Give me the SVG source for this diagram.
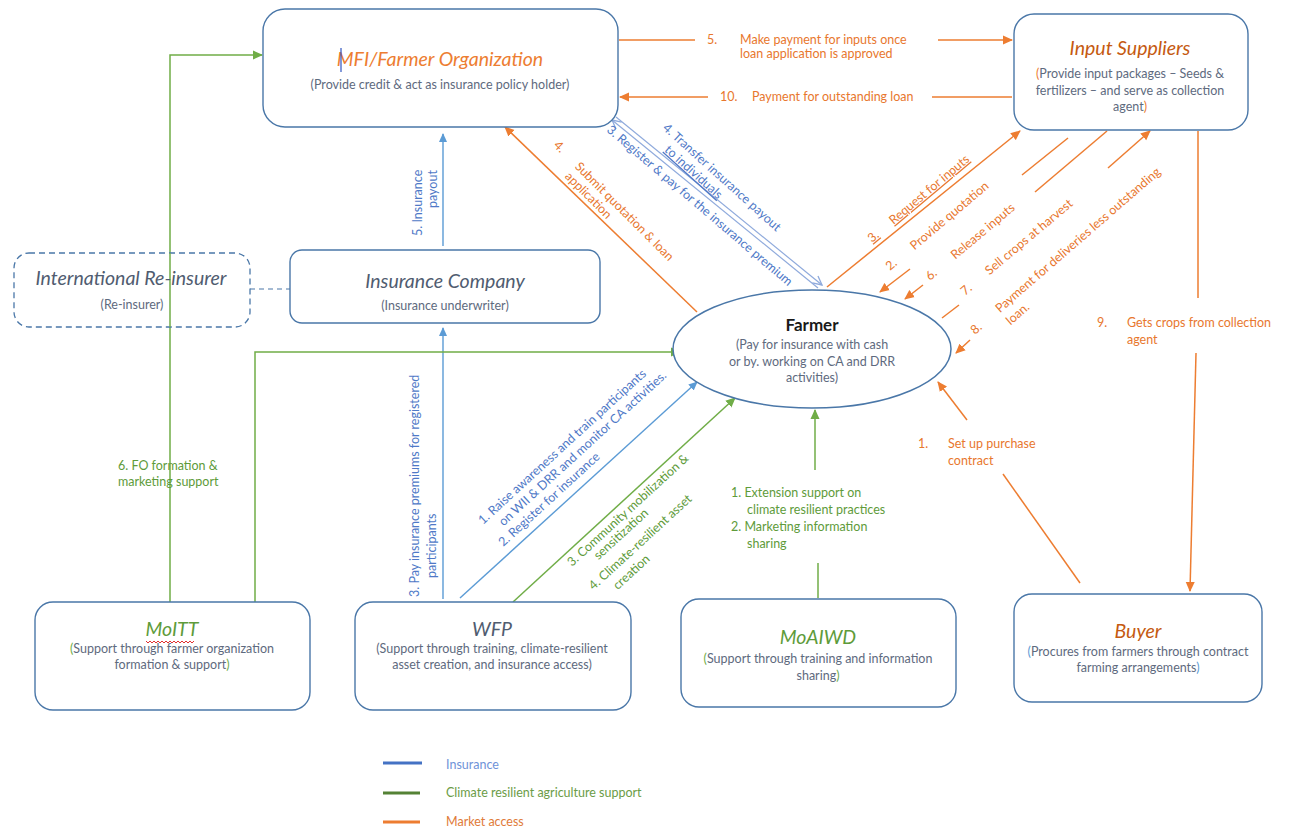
<svg xmlns="http://www.w3.org/2000/svg" width="1291" height="828" viewBox="0 0 1291 828">
<style>
text{font-family:Lato,"Liberation Sans",sans-serif}
.box{fill:#fff;stroke:#4A77A8;stroke-width:1.4}
.ttl{font-style:italic;font-size:19.5px;text-anchor:middle}
.sub{font-size:12.5px;fill:#5E6A7E;text-anchor:middle}
.lo{font-size:12.5px;fill:#E8772E}
.lb{font-size:12.5px;fill:#4F79C7}
.lg{font-size:12.5px;fill:#5E9B3A}
.eo{stroke:#ED7D31;stroke-width:1.5;fill:none}
.eb{stroke:#5B9BD5;stroke-width:1.4;fill:none}
.eb2{stroke:#8FAADC;stroke-width:1.2;fill:none}
.eg{stroke:#70AD47;stroke-width:1.5;fill:none}
</style>
<defs>
<marker id="aO" viewBox="0 0 10 10" refX="9" refY="5" markerWidth="10" markerHeight="10" markerUnits="userSpaceOnUse" orient="auto"><path d="M0,0.5 L10,5 L0,9.5 z" fill="#ED7D31"/></marker>
<marker id="aB" viewBox="0 0 10 10" refX="9" refY="5" markerWidth="9" markerHeight="9" markerUnits="userSpaceOnUse" orient="auto"><path d="M0,0.5 L10,5 L0,9.5 z" fill="#5B9BD5"/></marker>
<marker id="aG" viewBox="0 0 10 10" refX="9" refY="5" markerWidth="10" markerHeight="10" markerUnits="userSpaceOnUse" orient="auto"><path d="M0,0.5 L10,5 L0,9.5 z" fill="#70AD47"/></marker>
<marker id="aBo" viewBox="0 0 10 10" refX="9" refY="5" markerWidth="11" markerHeight="11" markerUnits="userSpaceOnUse" orient="auto"><path d="M1,1 L9,5 L1,9" fill="none" stroke="#8FAADC" stroke-width="1.2"/></marker>
</defs>

<g id="connectors">
  <line class="eo" x1="619" y1="40" x2="695" y2="40"/>
  <line class="eo" x1="938" y1="40" x2="1012" y2="40" marker-end="url(#aO)"/>
  <line class="eo" x1="1012" y1="97" x2="932" y2="97"/>
  <line class="eo" x1="708" y1="97" x2="620" y2="97" marker-end="url(#aO)"/>
  <line class="eo" x1="697" y1="312" x2="505" y2="127" marker-end="url(#aO)"/>
  <line class="eo" x1="827" y1="287" x2="1020" y2="131" marker-end="url(#aO)"/>
  <line class="eo" x1="1068" y1="138" x2="1022" y2="175"/>
  <line class="eo" x1="910" y1="269" x2="880" y2="292" marker-end="url(#aO)"/>
  <line class="eo" x1="1107" y1="131" x2="1035" y2="192"/>
  <line class="eo" x1="923" y1="285" x2="905" y2="299" marker-end="url(#aO)"/>
  <line class="eo" x1="959" y1="305" x2="942" y2="318"/>
  <line class="eo" x1="1108" y1="168" x2="1150" y2="131" marker-end="url(#aO)"/>
  <line class="eo" x1="970" y1="340" x2="956" y2="353" marker-end="url(#aO)"/>
  <line class="eo" x1="1198" y1="131" x2="1198" y2="298"/>
  <line class="eo" x1="1196" y1="353" x2="1190" y2="591" marker-end="url(#aO)"/>
  <line class="eo" x1="1080" y1="583" x2="1003" y2="474"/>
  <line class="eo" x1="967" y1="420" x2="938" y2="382" marker-end="url(#aO)"/>

  <line class="eb" x1="443" y1="246" x2="443" y2="134" marker-end="url(#aB)"/>
  <line class="eb2" x1="818" y1="288" x2="612" y2="120" marker-end="url(#aBo)"/>
  <line class="eb2" x1="616" y1="117" x2="822" y2="285" marker-end="url(#aBo)"/>
  <line class="eb" x1="443" y1="599" x2="443" y2="328" marker-end="url(#aB)"/>
  <line class="eb" x1="460" y1="598" x2="697" y2="382" marker-end="url(#aB)"/>

  <polyline class="eg" points="170,602 170,55 262,55" marker-end="url(#aG)"/>
  <polyline class="eg" points="255,602 255,352 680,352" marker-end="url(#aG)"/>
  <line class="eg" x1="513" y1="602" x2="735" y2="398" marker-end="url(#aG)"/>
  <line class="eg" x1="818" y1="598" x2="818" y2="563"/>
  <line class="eg" x1="815" y1="470" x2="815" y2="410" marker-end="url(#aG)"/>

  <line x1="250" y1="289" x2="290" y2="289" stroke="#4A77A8" stroke-width="1.2" stroke-dasharray="5,4"/>

  <text class="lo" x="707" y="44">5.</text>
  <text class="lo" x="740" y="44">Make payment for inputs once</text>
  <text class="lo" x="740" y="58">loan application is approved</text>
  <text class="lo" x="720" y="101">10.</text>
  <text class="lo" x="752" y="101">Payment for outstanding loan</text>

  <g transform="translate(553,146) rotate(45)">
    <text class="lo" x="0" y="0">4.</text>
    <text class="lo" x="30" y="0">Submit quotation &amp; loan</text>
    <text class="lo" x="30" y="14" font-size="10.5">application</text>
  </g>

  <g transform="translate(606,131) rotate(40.5)">
    <text class="lb" x="0" y="0">3. Register &amp; pay for the insurance premium</text>
  </g>
  <g transform="translate(662,129) rotate(42)">
    <text class="lb" x="0" y="0">4.   Transfer insurance payout</text>
    <text class="lb" x="16" y="15" text-decoration="underline">to individuals</text>
  </g>

  <g transform="translate(422,236) rotate(-90)">
    <text class="lb" x="0" y="0" fill="#7F9BD6">5.    Insurance</text>
    <text class="lb" x="28" y="15" fill="#7F9BD6">payout</text>
  </g>

  <g transform="translate(872,243) rotate(-40)">
    <text class="lo" x="0" y="0" text-decoration="underline">3.</text>
    <text class="lo" x="28" y="0" text-decoration="underline">Request for inputs</text>
  </g>
  <g transform="translate(890,271) rotate(-40)">
    <text class="lo" x="0" y="0">2.</text>
    <text class="lo" x="32" y="0">Provide quotation</text>
  </g>
  <g transform="translate(930,281) rotate(-40)">
    <text class="lo" x="0" y="0">6.</text>
    <text class="lo" x="33" y="0">Release inputs</text>
  </g>
  <g transform="translate(965,296) rotate(-40)">
    <text class="lo" x="0" y="0">7.</text>
    <text class="lo" x="32" y="0">Sell crops at harvest</text>
  </g>
  <g transform="translate(975,335) rotate(-41)">
    <text class="lo" x="0" y="0">8.</text>
    <text class="lo" x="33" y="0">Payment for deliveries less outstanding</text>
    <text class="lo" x="33" y="16">loan.</text>
  </g>

  <text class="lo" x="1097" y="327">9.</text>
  <text class="lo" x="1127" y="327">Gets crops from collection</text>
  <text class="lo" x="1127" y="344">agent</text>

  <text class="lo" x="918" y="448">1.</text>
  <text class="lo" x="948" y="448">Set up purchase</text>
  <text class="lo" x="948" y="465">contract</text>

  <g transform="translate(419,597) rotate(-90)">
    <text class="lb" x="0" y="0">3.  Pay insurance premiums for registered</text>
    <text class="lb" x="19" y="17">participants</text>
  </g>

  <g transform="translate(483,525) rotate(-42.5)">
    <text class="lb" x="0" y="0">1.  Raise awareness and train participants</text>
    <text class="lb" x="14" y="15">on WII &amp; DRR and monitor CA activities.</text>
    <text class="lb" x="0" y="30">2.  Register for insurance</text>
  </g>

  <g transform="translate(572,567) rotate(-42.5)">
    <text class="lg" x="0" y="0">3.  Community mobilization &amp;</text>
    <text class="lg" x="24" y="13">sensitization</text>
    <text class="lg" x="0" y="32">4.  Climate-resilient asset</text>
    <text class="lg" x="18" y="48">creation</text>
  </g>

  <text class="lg" x="731" y="497">1. Extension support on</text>
  <text class="lg" x="747" y="514">climate resilient practices</text>
  <text class="lg" x="731" y="531">2. Marketing information</text>
  <text class="lg" x="747" y="548">sharing</text>

  <text class="lg" x="118" y="470">6. FO formation &amp;</text>
  <text class="lg" x="118" y="486">marketing support</text>
</g>

<g id="mfi">
  <rect class="box" x="263" y="9" width="355" height="118" rx="22"/>
  <text class="ttl" x="440" y="66" fill="#ED7D31" font-size="20">MFI/Farmer Organization</text>
  <line x1="341" y1="48" x2="341" y2="72" stroke="#2F55C0" stroke-width="1.2"/>
  <text class="sub" x="440" y="89">(Provide credit &amp; act as insurance policy holder)</text>
</g>

<g id="input-suppliers">
  <rect class="box" x="1014" y="14" width="234" height="116" rx="20"/>
  <text class="ttl" x="1130" y="55" fill="#C55A11" font-size="20">Input Suppliers</text>
  <text class="sub" x="1130" y="78"><tspan fill="#ED7D31">(</tspan>Provide input packages – Seeds &amp;</text>
  <text class="sub" x="1130" y="95">fertilizers – and serve as collection</text>
  <text class="sub" x="1130" y="111">agent<tspan fill="#ED7D31">)</tspan></text>
</g>

<g id="reinsurer">
  <rect x="14" y="253" width="236" height="74" rx="15" fill="#fff" stroke="#4A77A8" stroke-width="1.3" stroke-dasharray="6,4"/>
  <line x1="170" y1="253" x2="170" y2="327" stroke="#70AD47" stroke-width="1.5"/>
  <text class="ttl" x="131" y="285" fill="#505C70">International Re-insurer</text>
  <text class="sub" x="132" y="309">(Re-insurer)</text>
</g>

<g id="insurance-company">
  <rect class="box" x="290" y="250" width="310" height="73" rx="12"/>
  <text class="ttl" x="445" y="288" fill="#505C70">Insurance Company</text>
  <text class="sub" x="445" y="310">(Insurance underwriter)</text>
</g>

<g id="farmer">
  <ellipse cx="812" cy="349" rx="139" ry="59" fill="#fff" stroke="#4A77A8" stroke-width="1.5"/>
  <text x="812" y="331" text-anchor="middle" font-size="17" font-weight="bold" fill="#1a1a1a">Farmer</text>
  <text class="sub" x="812" y="349">(Pay for insurance with cash</text>
  <text class="sub" x="812" y="366">or by. working on CA and DRR</text>
  <text class="sub" x="812" y="382">activities)</text>
</g>

<g id="moitt">
  <rect class="box" x="35" y="602" width="275" height="108" rx="18"/>
  <text class="ttl" x="172" y="636" fill="#5E9B3A">MoITT</text>
  <path d="M146,641 l2,2 l2,-2 l2,2 l2,-2 l2,2 l2,-2 l2,2 l2,-2 l2,2 l2,-2 l2,2 l2,-2 l2,2 l2,-2 l2,2 l2,-2 l2,2 l2,-2 l2,2 l2,-2 l2,2 l2,-2 l2,2 l2,-2" fill="none" stroke="#E03030" stroke-width="1"/>
  <text class="sub" x="172" y="653"><tspan fill="#70AD47">(</tspan>Support through farmer organization</text>
  <text class="sub" x="172" y="669">formation &amp; support<tspan fill="#70AD47">)</tspan></text>
</g>

<g id="wfp">
  <rect class="box" x="355" y="602" width="276" height="108" rx="18"/>
  <text class="ttl" x="492" y="636" fill="#505C70">WFP</text>
  <text class="sub" x="492" y="653">(Support through training, climate-resilient</text>
  <text class="sub" x="492" y="669">asset creation, and insurance access)</text>
</g>

<g id="moaiwd">
  <rect class="box" x="681" y="599" width="275" height="108" rx="18"/>
  <text class="ttl" x="818" y="644" fill="#5E9B3A">MoAIWD</text>
  <text class="sub" x="818" y="663"><tspan fill="#70AD47">(</tspan>Support through training and information</text>
  <text class="sub" x="818" y="680">sharing<tspan fill="#70AD47">)</tspan></text>
</g>

<g id="buyer">
  <rect class="box" x="1014" y="594" width="248" height="108" rx="18"/>
  <text class="ttl" x="1138" y="638" fill="#C55A11">Buyer</text>
  <text class="sub" x="1138" y="656"><tspan fill="#5B9BD5">(</tspan>Procures from farmers through contract</text>
  <text class="sub" x="1138" y="672">farming arrangements<tspan fill="#5B9BD5">)</tspan></text>
</g>

<g id="legend">
  <line x1="383" y1="763" x2="422" y2="763" stroke="#4472C4" stroke-width="3"/>
  <text x="446" y="769" font-size="12.5" fill="#6F93D8">Insurance</text>
  <line x1="383" y1="793" x2="420" y2="793" stroke="#548235" stroke-width="3"/>
  <text x="446" y="797" font-size="12.5" fill="#6B9C47">Climate resilient agriculture support</text>
  <line x1="383" y1="822" x2="420" y2="822" stroke="#ED7D31" stroke-width="3"/>
  <text x="446" y="826" font-size="12.5" fill="#E07B39">Market access</text>
</g>
</svg>
